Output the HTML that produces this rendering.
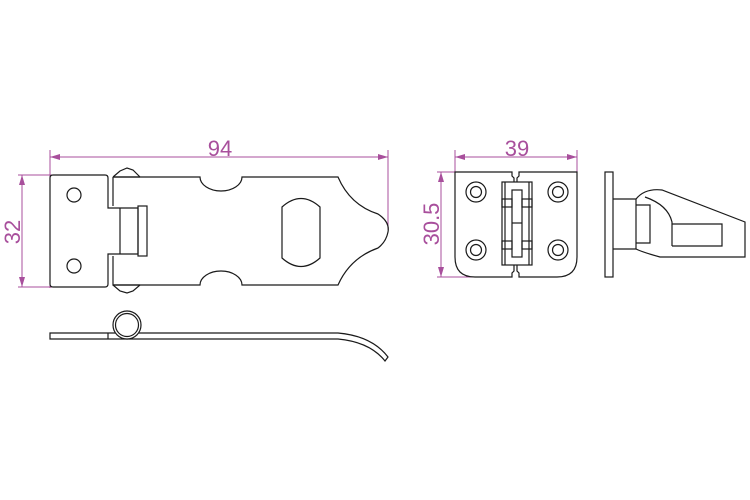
<!DOCTYPE html>
<html><head><meta charset="utf-8"><style>
html,body{margin:0;padding:0;background:#fff}
svg{display:block}
text{font-family:"Liberation Sans",sans-serif;fill:#a84f9c}
</style></head><body>
<svg width="750" height="500" viewBox="0 0 750 500" xmlns="http://www.w3.org/2000/svg">
<defs>
<marker id="a" viewBox="0 0 10 6" refX="10" refY="3" markerWidth="10" markerHeight="6" orient="auto-start-reverse" markerUnits="userSpaceOnUse"><path d="M0,0 L10,3 L0,6 Z" fill="#a84f9c"/></marker>
</defs>
<g stroke="#a84f9c" stroke-width="1" fill="none">
<line x1="50" y1="150" x2="50" y2="288"/>
<line x1="388" y1="150" x2="388" y2="230"/>
<line x1="50" y1="157" x2="388" y2="157" marker-start="url(#a)" marker-end="url(#a)"/>
<line x1="18" y1="175" x2="52" y2="175"/>
<line x1="18" y1="287" x2="52" y2="287"/>
<line x1="22" y1="175" x2="22" y2="287" marker-start="url(#a)" marker-end="url(#a)"/>
<line x1="455" y1="150" x2="455" y2="180"/>
<line x1="577" y1="150" x2="577" y2="180"/>
<line x1="455" y1="157" x2="577" y2="157" marker-start="url(#a)" marker-end="url(#a)"/>
<line x1="437" y1="172" x2="470" y2="172"/>
<line x1="437" y1="277" x2="480" y2="277"/>
<line x1="441" y1="172" x2="441" y2="277" marker-start="url(#a)" marker-end="url(#a)"/>
</g>
<text x="220" y="156" font-size="22" text-anchor="middle">94</text>
<text x="517" y="156" font-size="22" text-anchor="middle">39</text>
<text transform="translate(20,232) rotate(-90)" font-size="22" text-anchor="middle">32</text>
<text transform="translate(439,224) rotate(-90)" font-size="22" text-anchor="middle">30.5</text>

<g stroke="#1a1a1a" stroke-width="1.2" fill="none">
<path d="M53,175 H105 Q108,175 108,178 V208 H138 V254 H108 V284 Q108,287 105,287 H53 Q50,287 50,284 V178 Q50,175 53,175 Z"/>
<circle cx="74" cy="195" r="7"/><circle cx="74" cy="266" r="7"/>
<rect x="138" y="206" width="9" height="50"/>
<line x1="120" y1="208" x2="120" y2="254"/>
<path d="M113,177 H200 A21,14 0 0 0 242,177 H338 Q350,205 378,214 Q390,222 388,232 Q386,242 378,248 Q350,258 338,285 H242 A21,14 0 0 0 200,285 H113 V256 M113,206 V177"/>
<path d="M113,177 L120,171 L127,168 L133,170 L140,177 M113,285 L120,291 L127,293 L133,291 L140,285"/>
<line x1="113" y1="177" x2="140" y2="177"/>
<line x1="113" y1="285" x2="140" y2="285"/>
<path d="M282,207 Q301,190 320,207 V258 Q301,275 282,258 Z"/>
<path d="M50,333 H338 Q372,336 388,357 L385,361 Q370,342 338,339 H50 Z"/>
<line x1="108" y1="333" x2="108" y2="339"/>
<circle cx="127" cy="325" r="14" fill="#fff"/><circle cx="127" cy="325" r="11.5"/>

<path d="M455,172 H512 V176 L514,178 V271 L512,273 V277 H475 Q455,277 455,257 Z"/>
<path d="M577,172 H519 V176 L517,178 V271 L519,273 V277 H557 Q577,277 577,257 Z"/>
<circle cx="476" cy="192" r="10"/><circle cx="476" cy="192" r="5.5"/>
<circle cx="476" cy="250" r="10"/><circle cx="476" cy="250" r="5.5"/>
<circle cx="558" cy="192" r="10"/><circle cx="558" cy="192" r="5.5"/>
<circle cx="558" cy="250" r="10"/><circle cx="558" cy="250" r="5.5"/>
<rect x="502" y="182" width="30" height="83" fill="#fff"/>
<rect x="512" y="190" width="10" height="67"/>
<line x1="505" y1="182" x2="505" y2="265"/><line x1="529" y1="182" x2="529" y2="265"/>
<rect x="502" y="199" width="10" height="8"/><rect x="522" y="199" width="10" height="8"/>
<rect x="502" y="241" width="10" height="8"/><rect x="522" y="241" width="10" height="8"/>
<line x1="512" y1="223" x2="522" y2="223"/>

<rect x="605" y="172" width="8" height="105"/>
<path d="M613,199 H636 Q645,188 662,190 L745,222 V257 H660 Q642,252 636,249 H613"/>
<path d="M636,199 V249 M636,205 H650 V243 H636"/>
<path d="M645,197 Q668,205 672,222 V246 M672,224 H722 V246 H672"/>
</g>
</svg>
</body></html>
